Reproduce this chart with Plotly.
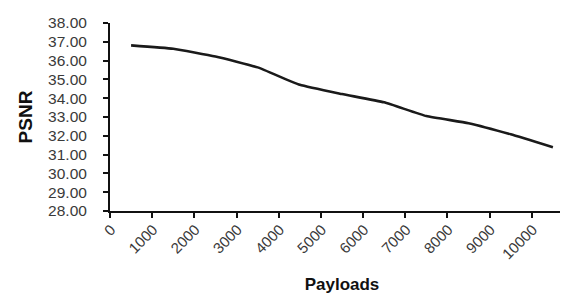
import plotly.graph_objects as go

payload_labels = ["0", "1000", "2000", "3000", "4000", "5000",
                  "6000", "7000", "8000", "9000", "10000"]
psnr_values = [36.81, 36.63, 36.22, 35.64, 34.71, 34.22,
               33.78, 33.05, 32.67, 32.08, 31.39]

# category centres (data) sit between the boundary tick marks
x_centres = [i + 0.5 for i in range(len(payload_labels))]
tick_positions = list(range(len(payload_labels) + 1))
tick_texts = payload_labels + [""]

FONT = "Arial, Liberation Sans, sans-serif"
TXT = "#3a3a3a"

fig = go.Figure()
fig.add_trace(go.Scatter(
    x=x_centres, y=psnr_values, mode="lines",
    line=dict(color="#1a1a1a", width=2.6, shape="spline", smoothing=0.4),
    showlegend=False, hoverinfo="skip"))

fig.update_layout(
    width=568, height=296,
    margin=dict(l=102, r=2, t=15, b=93),
    paper_bgcolor="white", plot_bgcolor="white",
    font=dict(family=FONT, color=TXT),
    xaxis=dict(
        range=[0, 11], tickmode="array", tickvals=tick_positions,
        ticktext=tick_texts, tickangle=-45,
        ticks="outside", ticklen=5, tickwidth=2, tickcolor="#111",
        showline=True, linewidth=2, linecolor="#111",
        showgrid=False, zeroline=False, automargin=False,
        tickfont=dict(size=15, color=TXT),
        ticklabelshift=1, ticklabelstandoff=-3,
        title=dict(text="Payloads", font=dict(size=17, color="#111", weight="bold"),
                   standoff=17),
    ),
    yaxis=dict(
        range=[28, 38], dtick=1, tick0=28, tickformat=".2f",
        ticks="outside", ticklen=5, tickwidth=2, tickcolor="#111",
        showline=True, linewidth=2, linecolor="#111",
        showgrid=False, zeroline=False, automargin=False,
        tickfont=dict(size=15.5, color=TXT),
        ticklabelstandoff=13,
        title=dict(text="PSNR", font=dict(size=19, color="#111", weight="bold"),
                   standoff=10),
    ),
)

fig.write_html("out.html")
